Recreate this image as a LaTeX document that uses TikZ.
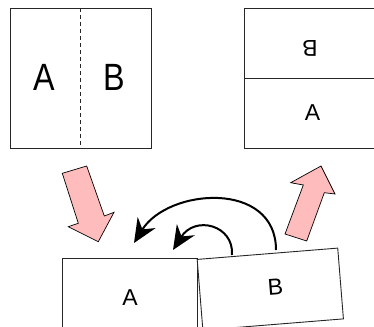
\documentclass[tikz,border=0pt]{standalone}
\usepackage{fontspec}
\setmainfont{Liberation Sans}
\usetikzlibrary{arrows.meta}
\definecolor{pinkfill}{HTML}{FFBCBC}
\tikzset{
  box/.style={draw=black!85, line width=0.9pt},
  bigtxt/.style={font=\fontsize{38}{40}\selectfont, inner sep=0pt},
  smalltxt/.style={font=\fontsize{23}{25}\selectfont, inner sep=0pt},
  pinkarrow/.style={fill=pinkfill, draw=black, line width=0.7pt, line join=miter},
  turn/.style={line width=2pt, -{Stealth[length=24pt,width=21pt,inset=8pt]}},
  fold/.style={draw=black!85, line width=0.9pt, dash pattern=on 4pt off 3pt}
}
\begin{document}
\begin{tikzpicture}[x=1pt,y=-1pt]
\useasboundingbox (0,0) rectangle (374,326);
\clip (0,0) rectangle (374,326);
% top-left sheet
\draw[box] (10,8) rectangle (151,148);
\coordinate (ft) at (80,8);
\coordinate (fb) at (80,148);
\draw[fold] (ft) -- (fb);
\node[bigtxt] (tA) at (44.5,77) {\scalebox{0.85}[1]{A}};
\node[bigtxt] (tB) at (114.5,77) {\scalebox{0.85}[1]{B}};
% top-right sheet
\draw[box] (244,8) rectangle (380,148);
\coordinate (dl) at (244,78);
\coordinate (dr) at (380,78);
\draw[box] (dl) -- (dr);
\node[smalltxt, rotate=180] (rB) at (310,48) {B};
\node[smalltxt] (rA) at (312.5,113) {A};
% pink arrows
\draw[pinkarrow] (62.3,173.3) -- (86.7,166) -- (104.3,216) -- (114,212.3) -- (98.3,241.7) -- (68.3,226.7) -- (78.3,223.3) -- cycle;
\draw[pinkarrow] (285,234) -- (303.3,185) -- (290.7,182.7) -- (321,166) -- (335,194) -- (324.3,192.7) -- (306.7,241) -- cycle;
% bottom sheets
\draw[box] (62,258) rectangle (197,332);
\node[smalltxt] (bA) at (130,298) {A};
\node[box, rotate=4.6, minimum width=141pt, minimum height=71pt, inner sep=0pt, anchor=north west, fill=white] (Bbox) at (196.7,259) {};
\node[smalltxt, rotate=4.6] (bB) at (275.5,287) {B};
% rotation arrows
\coordinate (s1) at (276,250);
\coordinate (e1) at (134,243);
\coordinate (s2) at (232,255);
\coordinate (e2) at (173,250);
\draw[turn] (s1) .. controls (276,180) and (168,188) .. (e1);
\draw[turn] (s2) .. controls (234,225) and (195,215) .. (e2);
\end{tikzpicture}
\end{document}
